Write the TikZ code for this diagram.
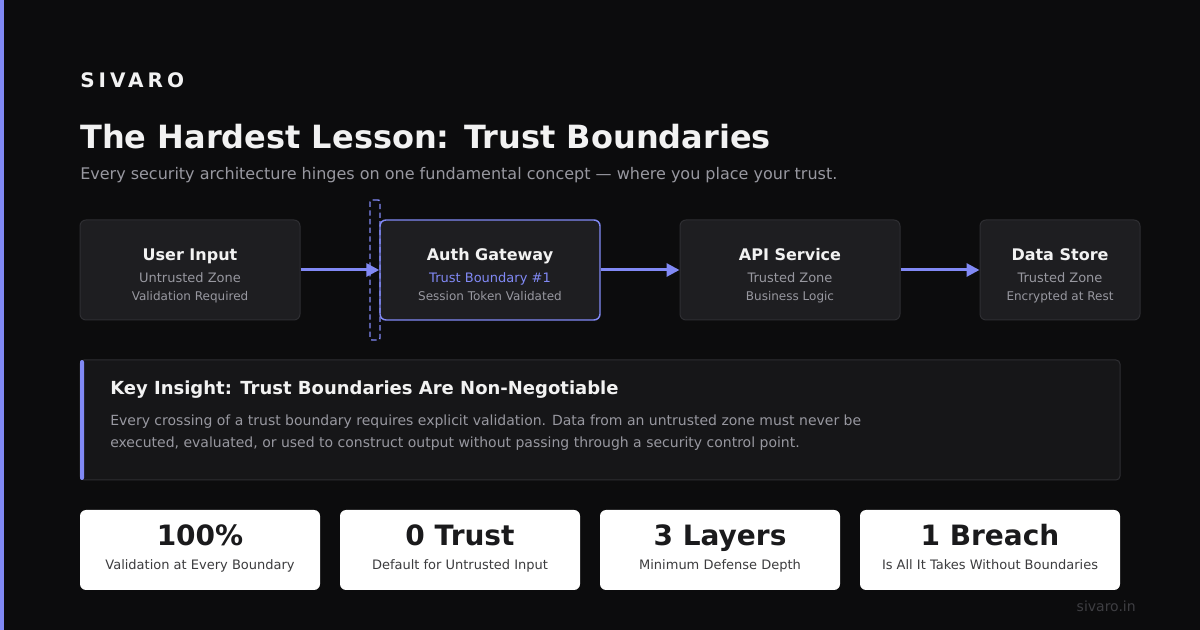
\documentclass[tikz,border=0pt]{standalone}
\usepackage{fontspec}
\setmainfont{DejaVu Sans}
\usetikzlibrary{arrows.meta,positioning,calc}
\definecolor{sivaroBg}{RGB}{12,12,13}
\definecolor{sivaroAccent}{RGB}{129,137,245}
\definecolor{sivaroBox}{RGB}{30,30,33}
\definecolor{sivaroEdge}{RGB}{46,46,50}
\definecolor{sivaroPanel}{RGB}{22,22,24}
\definecolor{sivaroText}{RGB}{242,242,242}
\definecolor{sivaroMuted}{RGB}{152,152,160}
\definecolor{sivaroDim}{RGB}{62,62,66}
\definecolor{sivaroInk}{RGB}{26,26,28}

\begin{document}
\begin{tikzpicture}[x=0.75pt, y=-0.75pt,
    zone/.style={rectangle, rounded corners=4.5pt, minimum width=165pt, minimum height=75pt,
                 fill=sivaroBox, draw=sivaroEdge, line width=0.75pt, inner sep=0pt},
    head/.style={anchor=base, inner sep=0pt, text=sivaroText, font=\fontsize{12}{15}\selectfont\bfseries},
    sub/.style={anchor=base, inner sep=0pt, text=sivaroMuted, font=\fontsize{9.75}{12}\selectfont},
    note/.style={anchor=base, inner sep=0pt, text=sivaroMuted, font=\fontsize{9}{11}\selectfont},
    flow/.style={draw=sivaroAccent, line width=2.25pt, -{Triangle[length=9.75pt, width=9.75pt]}},
    statbox/.style={rectangle, rounded corners=4.5pt, minimum width=180pt, minimum height=60pt,
                    fill=white, inner sep=0pt},
    statnum/.style={anchor=base, inner sep=0pt, text=sivaroInk, font=\fontsize{21}{25}\selectfont\bfseries},
    statlabel/.style={anchor=base, inner sep=0pt, text=sivaroInk!85, font=\fontsize{9.75}{12}\selectfont}
  ]
  \fill[sivaroBg] (0,0) rectangle (1200,630);
  \useasboundingbox (0,0) rectangle (1200,630);
  \fill[sivaroAccent] (0,0) rectangle (4,630);

  % heading
  \node[anchor=base west, inner sep=0pt, text=sivaroText, font=\fontsize{15}{18}\selectfont\bfseries]
    (brand) at (80,88) {\addfontfeature{LetterSpace=20}SIVARO};
  \node[anchor=base west, inner sep=0pt, text=sivaroText, font=\fontsize{24}{29}\selectfont\bfseries]
    (title) at (80,149) {The Hardest Lesson: Trust Boundaries};
  \node[anchor=base west, inner sep=0pt, text=sivaroMuted, font=\fontsize{12}{14}\selectfont]
    (subtitle) at (80,180) {Every security architecture hinges on one fundamental concept — where you place your trust.};

  % zones
  \node[zone] (user) at (190,270) {};
  \node[zone, draw=sivaroAccent, line width=1.1pt] (auth) at (490,270) {};
  \node[zone] (api)  at (790,270) {};
  \node[zone, minimum width=120pt] (store) at (1060,270) {};

  \node[rectangle, rounded corners=1.5pt, minimum width=7.5pt, minimum height=105pt, inner sep=0pt,
        draw=sivaroAccent, line width=1.1pt, dash pattern=on 4pt off 2.5pt] (boundary) at (375,270) {};

  \node[head] (userhead) at (190,261) {User Input};
  \node[sub]  (userzone) at (190,283) {Untrusted Zone};
  \node[note] (usernote) at (190,301) {Validation Required};

  \node[head] (authhead) at (490,261) {Auth Gateway};
  \node[sub, text=sivaroAccent] (authzone) at (490,283) {Trust Boundary \#1};
  \node[note] (authnote) at (490,301) {Session Token Validated};

  \node[head] (apihead) at (790,261) {API Service};
  \node[sub]  (apizone) at (790,283) {Trusted Zone};
  \node[note] (apinote) at (790,301) {Business Logic};

  \node[head] (storehead) at (1060,261) {Data Store};
  \node[sub]  (storezone) at (1060,283) {Trusted Zone};
  \node[note] (storenote) at (1060,301) {Encrypted at Rest};

  \draw[flow] (user.east) -- (auth.west);
  \draw[flow] (auth.east) -- (api.west);
  \draw[flow] (api.east) -- (store.west);

  % insight panel
  \node[rectangle, rounded corners=3pt, minimum width=780pt, minimum height=90pt, inner sep=0pt,
        fill=sivaroPanel, draw=sivaroEdge, line width=0.75pt] (insight) at (600,420) {};
  \fill[sivaroAccent, rounded corners=1.5pt] (80,360) rectangle (84,480);
  \node[anchor=base west, inner sep=0pt, text=sivaroText, font=\fontsize{13.5}{16}\selectfont\bfseries]
    (insighthead) at (110,395) {Key Insight: Trust Boundaries Are Non-Negotiable};
  \node[anchor=base west, inner sep=0pt, text=sivaroMuted, font=\fontsize{10.5}{13}\selectfont]
    (insightone) at (110,426) {Every crossing of a trust boundary requires explicit validation. Data from an untrusted zone must never be};
  \node[anchor=base west, inner sep=0pt, text=sivaroMuted, font=\fontsize{10.5}{13}\selectfont]
    (insighttwo) at (110,448) {executed, evaluated, or used to construct output without passing through a security control point.};

  % stats
  \node[statbox] (statA) at (200,550) {};
  \node[statbox] (statB) at (460,550) {};
  \node[statbox] (statC) at (720,550) {};
  \node[statbox, minimum width=195pt] (statD) at (990,550) {};

  \node[statnum]   (statAnum) at (200,546) {100\%};
  \node[statlabel] (statAlab) at (200,570) {Validation at Every Boundary};
  \node[statnum]   (statBnum) at (460,546) {0 Trust};
  \node[statlabel] (statBlab) at (460,570) {Default for Untrusted Input};
  \node[statnum]   (statCnum) at (720,546) {3 Layers};
  \node[statlabel] (statClab) at (720,570) {Minimum Defense Depth};
  \node[statnum]   (statDnum) at (990,546) {1 Breach};
  \node[statlabel] (statDlab) at (990,570) {Is All It Takes Without Boundaries};

  \node[anchor=base east, inner sep=0pt, text=sivaroDim, font=\fontsize{10.5}{13}\selectfont]
    (site) at (1136,612) {sivaro.in};
\end{tikzpicture}
\end{document}
